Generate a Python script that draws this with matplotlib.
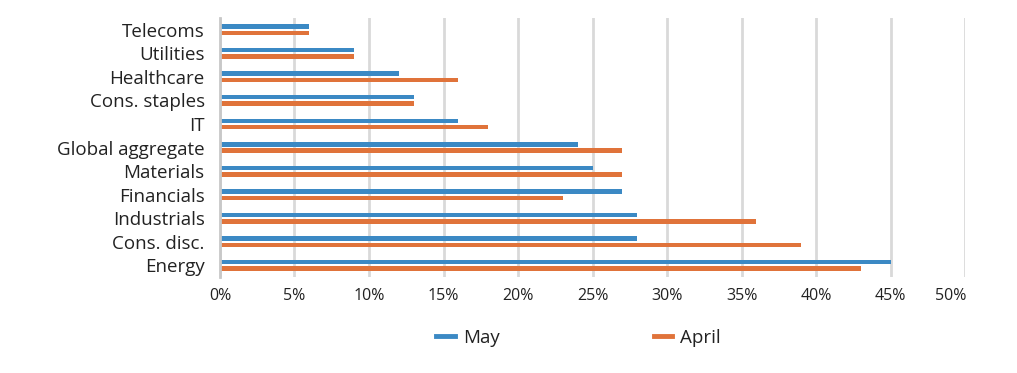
import matplotlib
matplotlib.use("Agg")
import matplotlib.pyplot as plt
import matplotlib.transforms as mtransforms
from matplotlib.lines import Line2D
import numpy as np

categories = ["Telecoms", "Utilities", "Healthcare", "Cons. staples", "IT",
              "Global aggregate", "Materials", "Financials", "Industrials",
              "Cons. disc.", "Energy"]
may = [6, 9, 12, 13, 16, 24, 25, 27, 28, 28, 45]
april = [6, 9, 16, 13, 18, 27, 27, 23, 36, 39, 43]
xticks = [0, 5, 10, 15, 20, 25, 30, 35, 40, 45, 50]
xticklabels = ["0%", "5%", "10%", "15%", "20%", "25%", "30%", "35%", "40%", "45%", "50%"]

blue = "#3b89c4"
orange = "#e0733a"
grid = "#d9d9d9"
txt = "#222222"

plt.rcParams['font.family'] = ['Open Sans', 'DejaVu Sans']

fig = plt.figure(figsize=(10.17, 3.73), dpi=100)
ax = fig.add_axes([0.2163, 0.257, 0.7327, 0.695])

y = np.arange(len(categories))
h = 0.19
off = 0.135
ax.barh(y - off, may, height=h, color=blue, label="May", zorder=3)
ax.barh(y + off, april, height=h, color=orange, label="April", zorder=3)

ax.set_ylim(len(categories) - 0.5, -0.5)
ax.set_xlim(0, 50)
ax.set_yticks(y)
ax.set_yticklabels(categories, fontsize=13.5, color=txt)
ax.set_xticks(xticks)
ax.set_xticklabels(xticklabels, fontsize=11.5, color=txt)
ax.tick_params(axis='y', length=0, pad=11)
ax.tick_params(axis='x', length=0, pad=8)

ax.grid(axis='x', color=grid, linewidth=2, zorder=0)
for s in ["top", "right", "bottom"]:
    ax.spines[s].set_visible(False)
ax.spines["left"].set_color("#c8c8c8")
ax.spines["left"].set_linewidth(2)
ax.spines["left"].set_zorder(4)

# shift last tick label slightly left as in reference
lbl = ax.get_xticklabels()[-1]
lbl.set_transform(lbl.get_transform() + mtransforms.ScaledTranslation(-14/100, 0, fig.dpi_scale_trans))

handles = [Line2D([0], [0], color=blue, lw=3.5), Line2D([0], [0], color=orange, lw=3.5)]
fig.legend(handles, ["May", "April"], loc="center", bbox_to_anchor=(0.569, 0.095),
           ncol=2, frameon=False, fontsize=13.5, handlelength=0.98, handletextpad=0.45,
           columnspacing=8.2, labelcolor=txt)

fig.savefig("out.png", dpi=100)
